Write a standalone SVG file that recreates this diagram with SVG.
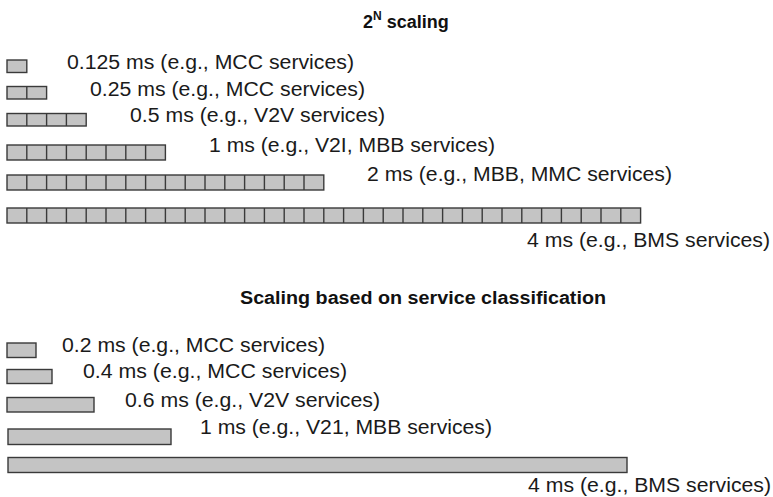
<svg xmlns="http://www.w3.org/2000/svg" width="773" height="497" viewBox="0 0 773 497">
<style>
.bg{fill:#ffffff}
.t{font-family:"Liberation Sans",Arial,sans-serif;font-size:20px;fill:#1a1a1a}
.h{font-family:"Liberation Sans",Arial,sans-serif;font-size:18px;font-weight:bold;fill:#111111}
.c{fill:#c4c4c4;stroke:#3a3a3a;stroke-width:1.4}
.d{stroke:#3a3a3a;stroke-width:1.4}
</style>
<rect class="bg" width="773" height="497"/>
<text id="title1" class="h" x="363" y="28">2<tspan dy="-8" font-size="12">N</tspan><tspan dy="8"> scaling</tspan></text>
<g id="r1">
<rect class="c" x="7" y="60" width="19.8" height="12.5"/>
<text class="t" x="67" y="69" textLength="287" lengthAdjust="spacingAndGlyphs">0.125 ms (e.g., MCC services)</text>
</g>
<g id="r2">
<rect class="c" x="7" y="86.5" width="39.6" height="12.5"/>
<line class="d" x1="26.8" y1="86.5" x2="26.8" y2="99"/>
<text class="t" x="90" y="95.5" textLength="275" lengthAdjust="spacingAndGlyphs">0.25 ms (e.g., MCC services)</text>
</g>
<g id="r3">
<rect class="c" x="7" y="113.5" width="79.2" height="12.5"/>
<path class="d" d="M26.8 113.5V126M46.6 113.5V126M66.4 113.5V126"/>
<text class="t" x="130" y="122" textLength="255" lengthAdjust="spacingAndGlyphs">0.5 ms (e.g., V2V services)</text>
</g>
<g id="r4">
<rect class="c" x="7" y="145" width="158.4" height="15"/>
<path class="d" d="M26.8 145v15M46.6 145v15M66.4 145v15M86.2 145v15M106 145v15M125.8 145v15M145.6 145v15"/>
<text class="t" x="209" y="152" textLength="286" lengthAdjust="spacingAndGlyphs">1 ms (e.g., V2I, MBB services)</text>
</g>
<g id="r5">
<rect class="c" x="7" y="175" width="316.8" height="15"/>
<path class="d" d="M26.8 175v15M46.6 175v15M66.4 175v15M86.2 175v15M106 175v15M125.8 175v15M145.6 175v15M165.4 175v15M185.2 175v15M205 175v15M224.8 175v15M244.6 175v15M264.4 175v15M284.2 175v15M304 175v15"/>
<text class="t" x="367" y="181" textLength="305" lengthAdjust="spacingAndGlyphs">2 ms (e.g., MBB, MMC services)</text>
</g>
<g id="r6">
<rect class="c" x="7" y="208" width="633.6" height="15"/>
<path class="d" d="M26.8 208v15M46.6 208v15M66.4 208v15M86.2 208v15M106 208v15M125.8 208v15M145.6 208v15M165.4 208v15M185.2 208v15M205 208v15M224.8 208v15M244.6 208v15M264.4 208v15M284.2 208v15M304 208v15M323.8 208v15M343.6 208v15M363.4 208v15M383.2 208v15M403 208v15M422.8 208v15M442.6 208v15M462.4 208v15M482.2 208v15M502 208v15M521.8 208v15M541.6 208v15M561.4 208v15M581.2 208v15M601 208v15M620.8 208v15"/>
<text class="t" x="527" y="247" textLength="243" lengthAdjust="spacingAndGlyphs">4 ms (e.g., BMS services)</text>
</g>
<text id="title2" class="h" x="240" y="304" textLength="366" lengthAdjust="spacingAndGlyphs">Scaling based on service classification</text>
<g id="s1">
<rect class="c" x="7" y="343" width="29" height="14.5"/>
<text class="t" x="62" y="352" textLength="263" lengthAdjust="spacingAndGlyphs">0.2 ms (e.g., MCC services)</text>
</g>
<g id="s2">
<rect class="c" x="7" y="369.5" width="45" height="14"/>
<text class="t" x="83" y="378" textLength="264" lengthAdjust="spacingAndGlyphs">0.4 ms (e.g., MCC services)</text>
</g>
<g id="s3">
<rect class="c" x="7" y="397.5" width="87" height="14.5"/>
<text class="t" x="125" y="407" textLength="255" lengthAdjust="spacingAndGlyphs">0.6 ms (e.g., V2V services)</text>
</g>
<g id="s4">
<rect class="c" x="8" y="429" width="163" height="15.5"/>
<text class="t" x="200" y="434" textLength="292" lengthAdjust="spacingAndGlyphs">1 ms (e.g., V21, MBB services)</text>
</g>
<g id="s5">
<rect class="c" x="8" y="457.5" width="619" height="15"/>
<text class="t" x="528" y="492" textLength="243" lengthAdjust="spacingAndGlyphs">4 ms (e.g., BMS services)</text>
</g>
</svg>
